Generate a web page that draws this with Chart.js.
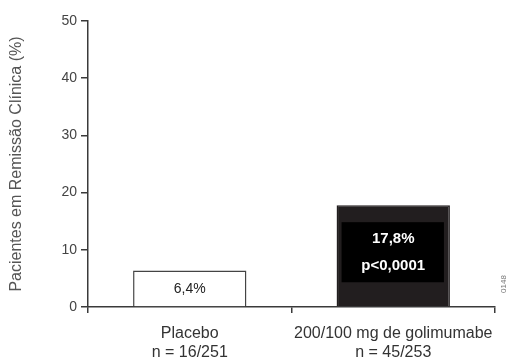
<!DOCTYPE html>
<html>
<head>
<meta charset="utf-8">
<script src="https://cdn.jsdelivr.net/npm/chart.js@4/dist/chart.umd.min.js"></script>
<style>
  html, body { margin: 0; padding: 0; background: #fff; }
  #wrap { width: 515px; height: 363px; }
</style>
</head>
<body>
<div id="wrap"><canvas id="chart"></canvas></div>
<script>
const categories = [["Placebo", "n = 16/251"], ["200/100 mg de golimumabe", "n = 45/253"]];
const remissao = [6.4, 17.8];
const barLabels = [["6,4%"], ["17,8%", "p<0,0001"]];
const yTicks = [0, 10, 20, 30, 40, 50];
const fontName = "'Liberation Sans', Arial, sans-serif";
const ink = "#3a3a3a";

// texto dentro das barras e código da figura
const labelPlugin = {
  id: "labelPlugin",
  afterDatasetsDraw(chart) {
    const ctx = chart.ctx;
    const bars = chart.getDatasetMeta(0).data;
    ctx.save();
    ctx.textAlign = "center";
    ctx.textBaseline = "middle";

    // placebo
    let b = bars[0];
    ctx.fillStyle = "#222";
    ctx.font = "14px " + fontName;
    ctx.fillText(barLabels[0][0], b.x, (b.y + b.base) / 2 + 1);

    // golimumabe: caixa preta com texto branco
    b = bars[1];
    const left = b.x - b.width / 2 + 5;
    const right = b.x + b.width / 2 - 6;
    const top = b.y + 17;
    const bottom = b.base - 24;
    ctx.fillStyle = "#000";
    ctx.fillRect(left, top, right - left, bottom - top);
    ctx.fillStyle = "#fff";
    ctx.font = "bold 15px " + fontName;
    ctx.fillText(barLabels[1][0], b.x, top + 17);
    ctx.fillText(barLabels[1][1], b.x, top + 44);

    // código lateral
    const a = chart.chartArea;
    ctx.translate(a.right + 9, a.bottom - 23);
    ctx.rotate(-Math.PI / 2);
    ctx.fillStyle = "#777";
    ctx.font = "8px " + fontName;
    ctx.fillText("0148", 0, 0);
    ctx.restore();
  }
};

new Chart(document.getElementById("chart"), {
  type: "bar",
  data: {
    labels: categories,
    datasets: [{
      data: remissao,
      backgroundColor: ["#ffffff", "#221e1f"],
      borderColor: ["#444444", "#221e1f"],
      borderWidth: 1.5,
      borderSkipped: "bottom",
      barPercentage: 0.557,
      categoryPercentage: 1
    }]
  },
  options: {
    responsive: true,
    maintainAspectRatio: false,
    animation: false,
    layout: { padding: { top: 21, right: 20, bottom: 0, left: 0 } },
    plugins: { legend: { display: false }, tooltip: { enabled: false } },
    scales: {
      x: {
        offset: true,
        afterFit(scale) { scale.height = 56; },
        border: { display: true, color: ink, width: 1.5 },
        grid: { display: true, offset: true, drawOnChartArea: false, tickLength: 6, color: ink, lineWidth: 1.5 },
        ticks: { color: "#333", padding: 11, font: { family: fontName, size: 16 }, maxRotation: 0 }
      },
      y: {
        min: 0,
        max: 50,
        afterFit(scale) { scale.width = 88; },
        afterBuildTicks(scale) { scale.ticks = yTicks.map(v => ({ value: v })); },
        border: { display: true, color: ink, width: 1.5 },
        grid: { display: true, drawOnChartArea: false, tickLength: 7, color: ink, lineWidth: 1.5 },
        ticks: { color: "#444", padding: 4, font: { family: fontName, size: 14 } },
        title: {
          display: true,
          text: "Pacientes em Remissão Clínica (%)",
          color: "#555",
          padding: { top: 7, bottom: 0 },
          font: { family: fontName, size: 16 }
        }
      }
    }
  },
  plugins: [labelPlugin]
});
</script>
</body>
</html>
